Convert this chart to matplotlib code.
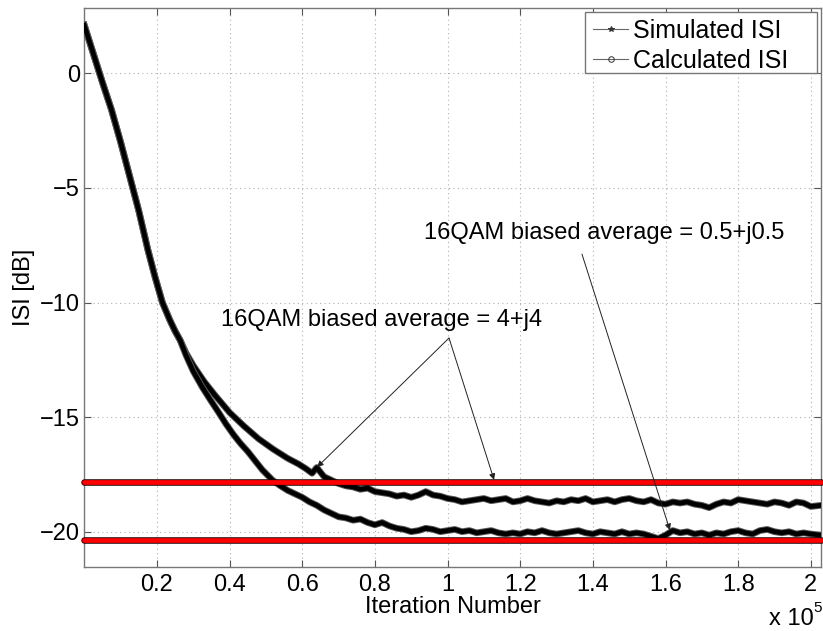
import matplotlib
matplotlib.use("Agg")
import matplotlib.pyplot as plt
import matplotlib.patheffects as pe
from matplotlib.lines import Line2D
from matplotlib.patches import Rectangle

plt.rcParams['font.family'] = ['Liberation Sans', 'DejaVu Sans']

# ---- data (x in units of 1e5 iterations, y in dB) ----
shared_x = [0.0, 0.025, 0.05, 0.075, 0.10, 0.125, 0.15, 0.175, 0.195, 0.215, 0.235, 0.25, 0.264]
shared_y = [2.1, 0.85, -0.4, -1.6, -3.0, -4.5, -6.0, -7.7, -8.9, -10.0, -10.75, -11.25, -11.65]

upper_x = [0.28, 0.30, 0.33, 0.36, 0.40, 0.44, 0.48, 0.52, 0.56, 0.59, 0.61, 0.627, 0.64,
           0.66, 0.68, 0.70, 0.72, 0.74, 0.76, 0.78, 0.80, 0.82, 0.84, 0.86, 0.88, 0.90,
           0.92, 0.94, 0.96, 0.98, 1.00, 1.02, 1.04, 1.06, 1.08, 1.10, 1.12, 1.14, 1.16,
           1.18, 1.20, 1.22, 1.24, 1.26, 1.28, 1.30, 1.32, 1.34, 1.36, 1.38, 1.40, 1.42,
           1.44, 1.46, 1.48, 1.50, 1.52, 1.54, 1.56, 1.58, 1.60, 1.62, 1.64, 1.66, 1.68,
           1.70, 1.72, 1.74, 1.76, 1.78, 1.80, 1.82, 1.84, 1.86, 1.88, 1.90, 1.92, 1.94,
           1.96, 1.98, 2.00, 2.028]
upper_y = [-12.2, -12.75, -13.45, -14.05, -14.8, -15.4, -15.95, -16.4, -16.8, -17.05, -17.25, -17.45, -17.2,
           -17.6, -17.75, -17.9, -18.0, -18.05, -18.15, -18.1, -18.25, -18.3, -18.35, -18.45, -18.4, -18.5,
           -18.4, -18.25, -18.4, -18.45, -18.55, -18.6, -18.7, -18.65, -18.6, -18.55, -18.65, -18.6, -18.55,
           -18.7, -18.65, -18.55, -18.65, -18.7, -18.75, -18.65, -18.7, -18.6, -18.65, -18.55, -18.7, -18.65,
           -18.6, -18.7, -18.6, -18.55, -18.65, -18.7, -18.6, -18.75, -18.8, -18.7, -18.75, -18.7, -18.8,
           -18.85, -18.95, -18.8, -18.7, -18.75, -18.6, -18.65, -18.7, -18.75, -18.8, -18.7, -18.75, -18.85,
           -18.7, -18.75, -18.9, -18.85]

lower_x = [0.28, 0.30, 0.325, 0.345, 0.37, 0.39, 0.41, 0.43, 0.45, 0.47, 0.49, 0.518, 0.54,
           0.56, 0.58, 0.60, 0.62, 0.64, 0.66, 0.68, 0.70, 0.72, 0.74, 0.76, 0.78, 0.80,
           0.82, 0.84, 0.86, 0.88, 0.90, 0.92, 0.94, 0.96, 0.98, 1.00, 1.02, 1.04, 1.06,
           1.08, 1.10, 1.12, 1.14, 1.16, 1.18, 1.20, 1.22, 1.24, 1.26, 1.28, 1.30, 1.32,
           1.34, 1.36, 1.38, 1.40, 1.42, 1.44, 1.46, 1.48, 1.50, 1.52, 1.54, 1.56, 1.58,
           1.60, 1.62, 1.64, 1.66, 1.68, 1.70, 1.72, 1.74, 1.76, 1.78, 1.80, 1.82, 1.84,
           1.86, 1.88, 1.90, 1.92, 1.94, 1.96, 1.98, 2.00, 2.028]
lower_y = [-12.3, -13.0, -13.7, -14.2, -14.8, -15.3, -15.75, -16.15, -16.5, -16.9, -17.3, -17.75, -18.0,
           -18.2, -18.35, -18.5, -18.7, -18.85, -19.05, -19.2, -19.35, -19.4, -19.5, -19.45, -19.6, -19.7,
           -19.6, -19.75, -19.85, -19.9, -20.0, -19.95, -19.85, -19.9, -20.0, -19.95, -19.9, -20.0, -19.95,
           -20.05, -20.0, -19.95, -20.05, -20.1, -20.05, -20.1, -20.0, -20.05, -19.95, -20.05, -20.1, -20.05,
           -20.0, -19.95, -20.05, -20.1, -20.0, -20.05, -20.1, -20.0, -20.1, -20.05, -20.1, -20.2, -20.3,
           -20.15, -19.95, -20.05, -20.0, -20.1, -20.05, -20.15, -20.05, -20.1, -20.0, -19.95, -20.05, -20.1,
           -19.95, -19.9, -20.0, -20.05, -20.0, -20.1, -20.05, -20.1, -20.15]

ref_levels = [-17.85, -20.35]

xticks = [0.2, 0.4, 0.6, 0.8, 1.0, 1.2, 1.4, 1.6, 1.8, 2.0]
xtick_labels = ['0.2', '0.4', '0.6', '0.8', '1', '1.2', '1.4', '1.6', '1.8', '2']
yticks = [-20, -15, -10, -5, 0]
ytick_labels = ['\u221220', '\u221215', '\u221210', '\u22125', '0']

legend_labels = ['Simulated ISI', 'Calculated ISI']
legend_markers = ['*', 'o']
ann1_text = '16QAM biased average = 4+j4'
ann2_text = '16QAM biased average = 0.5+j0.5'

XMAX = 2.028
YMIN, YMAX = -21.54, 2.85
FS = 17
W, H = 823, 631

fig = plt.figure(figsize=(8.23, 6.31), dpi=100)
ax = fig.add_axes([84.3 / W, 1 - 567 / H, (821 - 84.3) / W, (567 - 8) / H])

sim_x = shared_x + upper_x
sim_y = shared_y + upper_y
calc_x = shared_x + lower_x
calc_y = shared_y + lower_y

stroke = [pe.Stroke(linewidth=4.8, foreground='#5a5a5a'), pe.Normal()]
ax.plot(sim_x, sim_y, color='black', lw=3.4, solid_joinstyle='round', path_effects=stroke, zorder=3)
ax.plot(calc_x, calc_y, color='black', lw=3.4, solid_joinstyle='round', path_effects=stroke, zorder=3)

for lvl in ref_levels:
    ax.plot([0, XMAX], [lvl, lvl], color='#ff0000', lw=3.4, solid_capstyle='round',
            path_effects=[pe.Stroke(linewidth=4.7, foreground='#200000', capstyle='round'), pe.Normal()],
            clip_on=False, zorder=4)

ax.set_xlim(0, XMAX)
ax.set_ylim(YMIN, YMAX)
ax.set_xticks(xticks)
ax.set_xticklabels(xtick_labels)
ax.set_yticks(yticks)
ax.set_yticklabels(ytick_labels)
ax.tick_params(direction='in', length=5, width=0.8, color='#555555', labelsize=FS,
               top=True, right=True, pad=5)
ax.tick_params(axis='y', pad=3)
ax.grid(True, linestyle=(0, (1, 3)), color='#b0b0b0', lw=0.8)
for s in ax.spines.values():
    s.set_color('#777777')
    s.set_linewidth(1.0)

ax.set_ylabel('ISI [dB]', fontsize=FS, labelpad=4)
ax.set_xlabel('Iteration Number', fontsize=FS, labelpad=0)

fig.text(769 / W, 1 - 625 / H, 'x 10', fontsize=FS, ha='left', va='baseline')
fig.text(813 / W, 1 - 612 / H, '5', fontsize=11, ha='left', va='baseline')

# annotations
ax.text(0.376, -11.03, ann1_text, fontsize=FS, ha='left', va='baseline', zorder=5)
ax.text(0.935, -7.23, ann2_text, fontsize=FS, ha='left', va='baseline', zorder=5)
arrow_kw = dict(arrowstyle='-|>', lw=0.7, color='#222222', mutation_scale=9, shrinkA=0, shrinkB=0)
ax.annotate('', xy=(0.641, -17.18), xytext=(1.004, -11.55), arrowprops=arrow_kw, zorder=6)
ax.annotate('', xy=(1.128, -17.74), xytext=(1.004, -11.55), arrowprops=arrow_kw, zorder=6)
ax.annotate('', xy=(1.612, -19.93), xytext=(1.370, -7.89), arrowprops=arrow_kw, zorder=6)

# legend (MATLAB-style box)
fig.add_artist(Rectangle((585 / W, 1 - 73 / H), (817 - 585) / W, (73 - 12) / H,
                         transform=fig.transFigure, facecolor='white', edgecolor='#777777',
                         lw=1.0, zorder=10))
for i, (lab, mk) in enumerate(zip(legend_labels, legend_markers)):
    yc = 1 - (28.5 + i * 30.5) / H
    fig.add_artist(Line2D([593 / W, 628 / W], [yc, yc], transform=fig.transFigure,
                          color='#666666', lw=0.8, zorder=11))
    fig.add_artist(Line2D([610.5 / W], [yc], transform=fig.transFigure, marker=mk,
                          markersize=4, color='#333333',
                          markerfacecolor=('#333333' if mk == '*' else 'none'),
                          markeredgecolor='#333333', markeredgewidth=0.7, zorder=12))
    fig.text(633 / W, yc, lab, fontsize=18, ha='left', va='center_baseline', zorder=12)

fig.savefig('out.png', dpi=100)
